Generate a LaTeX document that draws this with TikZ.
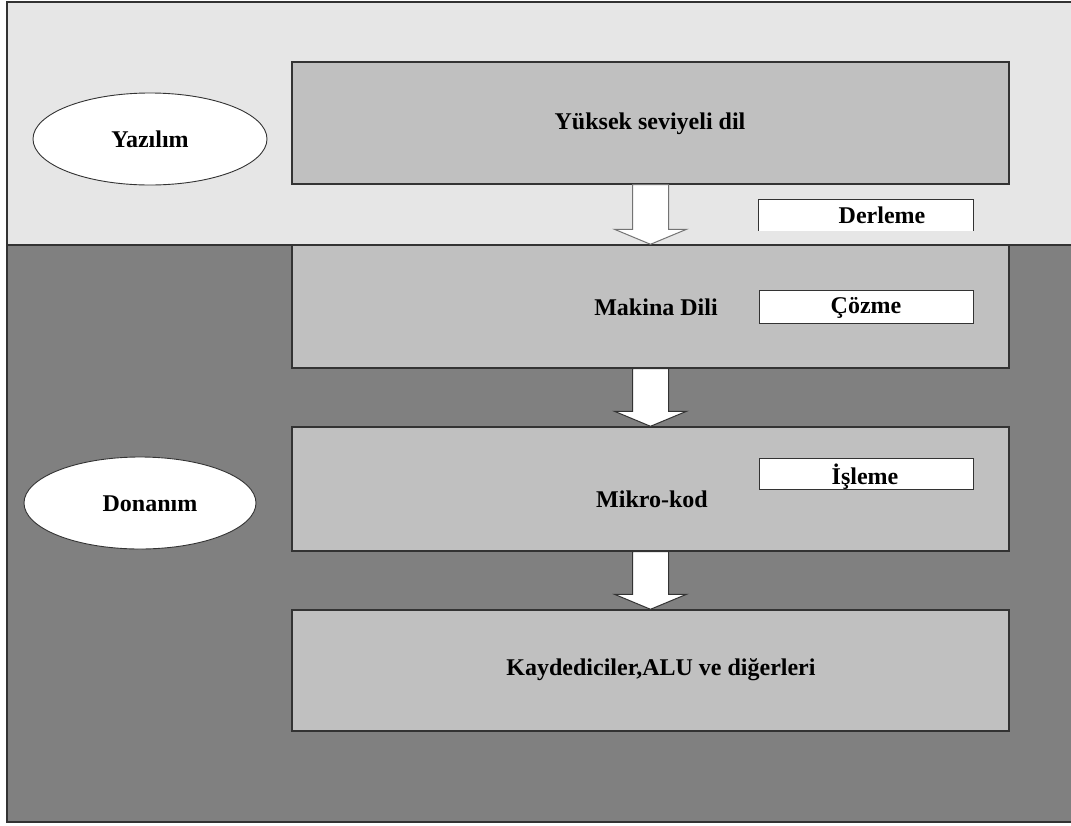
\documentclass[tikz,border=0pt]{standalone}
\usepackage{fontspec}
\setmainfont{Liberation Serif}
\usetikzlibrary{calc,shapes.geometric}

\definecolor{softband}{HTML}{E6E6E6}
\definecolor{hardband}{HTML}{808080}
\definecolor{layerfill}{HTML}{C0C0C0}
\definecolor{edge}{HTML}{333333}

% white block arrow from the bottom of one layer to the top of the next
\newcommand\flowarrow[3][edge]{%
  \draw[draw=#1, line width=1pt, fill=white, line join=miter]
    ($(#2.south)+(-18,0)$) -- ($(#2.south)+(18,0)$) --
    ($(#3.north)+(18,-15)$) -- ($(#3.north)+(36,-15)$) --
    (#3.north) --
    ($(#3.north)+(-36,-15)$) -- ($(#3.north)+(-18,-15)$) -- cycle;}

\begin{document}
\begin{tikzpicture}[x=1pt, y=-1pt,
  txt/.style={font=\bfseries\fontsize{24}{27}\selectfont, inner sep=0pt},
  layer/.style={draw=edge, line width=1.4pt, fill=layerfill, inner sep=0pt,
    minimum width=717pt},
  tag/.style={fill=white, inner sep=0pt, minimum width=214pt},
  oval/.style={ellipse, draw=edge, line width=0.9pt, fill=white, inner sep=0pt,
    minimum width=234pt, minimum height=92pt}]

\useasboundingbox (0,0) rectangle (1071,825);

% software and hardware bands
\fill[softband] (7,2) rectangle (1071,245);
\fill[hardband] (7,245) rectangle (1071,822);
\draw[edge, line width=1.5pt] (1071,2) -- (7,2) -- (7,822) -- (1071,822);
\draw[edge, line width=1.2pt] (7,245) -- (1071,245);

% layers
\node[layer, minimum height=122pt] (high) at (650.5,123) {};
\node[layer, minimum height=123pt] (mach) at (650.5,306.5) {};
\node[layer, minimum height=124pt] (micro) at (650.5,489) {};
\node[layer, minimum height=121pt] (regs) at (650.5,670.5) {};

\node[txt] (highT) at (650,124) {Yüksek seviyeli dil};
\node[txt] (machT) at (656,307) {Makina Dili};
\node[txt] (microT) at (652,499) {Mikro-kod};
\node[txt] (regsT) at (661,670) {Kaydediciler,ALU ve diğerleri};

% arrows between layers
\flowarrow[black!55]{high}{mach}
\flowarrow{mach}{micro}
\flowarrow{micro}{regs}

% process tags
\node[tag, minimum height=31pt] (comp) at (866,215) {};
\draw[edge, line width=1pt] (comp.south west) -- (comp.north west) -- (comp.north east) -- (comp.south east);
\node[txt] (compT) at (882,215) {Derleme};

\node[tag, draw=edge, line width=1pt, minimum height=33pt] (dec) at (866,306.5) {};
\node[txt] (decT) at (866,308) {Çözme};

\node[tag, draw=edge, line width=1pt, minimum height=31pt] (exe) at (866,473.5) {};
\node[txt] (exeT) at (865,477) {İşleme};

% band labels
\node[oval] (soft) at (150,139) {};
\node[txt] (softT) at (150,139) {Yazılım};
\node[oval, minimum width=232pt] (hard) at (140,503) {};
\node[txt] (hardT) at (150,504) {Donanım};

\end{tikzpicture}
\end{document}
